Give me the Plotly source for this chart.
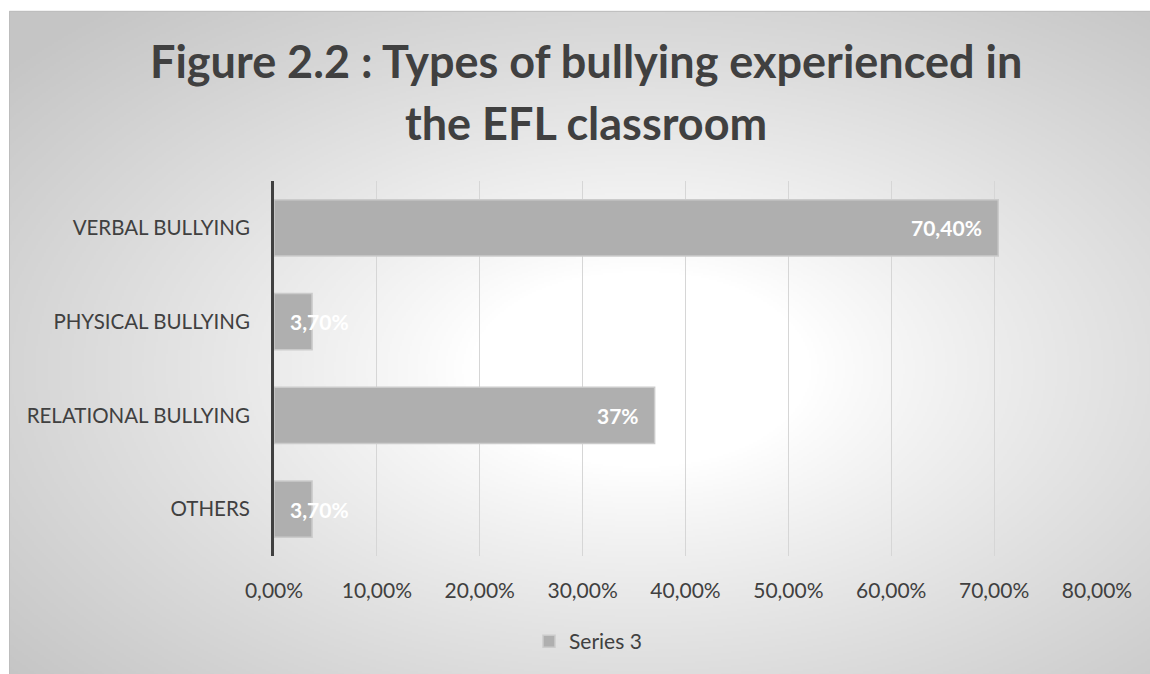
import base64
import struct
import zlib

import numpy as np
import plotly.graph_objects as go

# ---- data -------------------------------------------------------------
categories = ["VERBAL BULLYING", "PHYSICAL BULLYING", "RELATIONAL BULLYING", "OTHERS"]
values = [0.704, 0.037, 0.37, 0.037]
value_labels = ["70,40%", "3,70%", "37%", "3,70%"]
x_ticks = [0.0, 0.1, 0.2, 0.3, 0.4, 0.5, 0.6, 0.7, 0.8]
series_name = "Series 3"
title_lines = ["Figure 2.2 : Types of bullying experienced in", "the EFL classroom"]

# ---- geometry (pixels) -----------------------------------------------
W, H = 1150, 674
PL, PR, PT, PB = 274, 1097, 181, 558      # plot area edges
BOX_L, BOX_T, BOX_R, BOX_B = 9, 10, 1150, 674  # chart frame
TITLE_X, TITLE_Y = 586, [60, 123]          # centre of each title line


def px_to_paper_x(px):
    return (px - PL) / (PR - PL)


def px_to_paper_y(py):
    return (PB - py) / (PB - PT)


# ---- radial grey background rendered to a small PNG ------------------
def gray_png_uri(arr):
    h, w = arr.shape
    raw = b"".join(b"\x00" + arr[i].tobytes() for i in range(h))

    def chunk(tag, data):
        body = tag + data
        return struct.pack(">I", len(data)) + body + struct.pack(">I", zlib.crc32(body) & 0xFFFFFFFF)

    png = b"\x89PNG\r\n\x1a\n"
    png += chunk(b"IHDR", struct.pack(">IIBBBBB", w, h, 8, 0, 0, 0, 0))
    png += chunk(b"IDAT", zlib.compress(raw, 9))
    png += chunk(b"IEND", b"")
    return "data:image/png;base64," + base64.b64encode(png).decode()


IMG_R, IMG_B = W + 6, H + 6
scale = 2
gw, gh = (IMG_R - BOX_L) // scale, (IMG_B - BOX_T) // scale
gx = BOX_L + (np.arange(gw) + 0.5) * scale
gy = BOX_T + (np.arange(gh) + 0.5) * scale
XX, YY = np.meshgrid(gx, gy)
cx, cy = 640.0, 370.0
r = np.sqrt(((XX - cx) / ((BOX_R - BOX_L) / 2)) ** 2 + ((YY - cy) / ((BOX_B - BOX_T) / 2)) ** 2)
t = np.clip((r - 0.3) / (1.45 - 0.3), 0, 1)
shade = 255 - 58 * t ** 0.9
bg_uri = gray_png_uri(np.clip(shade, 0, 255).astype(np.uint8))

FONT = "Lato"
TEXT = "#404040"

fig = go.Figure()
fig.add_trace(
    go.Bar(
        y=categories,
        x=values,
        orientation="h",
        name=series_name,
        width=0.6,
        marker=dict(color="#afafaf", line=dict(color="#cbcbcb", width=1.5)),
        showlegend=True,
        hoverinfo="skip",
    )
)

annotations = []
# chart title, one annotation per line
for line, ty in zip(title_lines, TITLE_Y):
    annotations.append(
        dict(
            x=px_to_paper_x(TITLE_X),
            y=px_to_paper_y(ty),
            xref="paper",
            yref="paper",
            text=f"<b>{line}</b>",
            showarrow=False,
            xanchor="center",
            yanchor="middle",
            font=dict(family=FONT, size=45, color=TEXT),
        )
    )

# value labels: inside the bar end, or from the bar base when the bar is too short
for cat, v, lab in zip(categories, values, value_labels):
    fits = v >= 0.1
    annotations.append(
        dict(
            x=v if fits else 0,
            y=cat,
            xref="x",
            yref="y",
            text=f"<b>{lab}</b>",
            showarrow=False,
            xanchor="right" if fits else "left",
            xshift=-14 if fits else 14,
            font=dict(family=FONT, size=21, color="white"),
        )
    )

fig.update_layout(
    width=W,
    height=H,
    margin=dict(l=PL, r=W - PR, t=PT, b=H - PB),
    paper_bgcolor="white",
    plot_bgcolor="rgba(0,0,0,0)",
    separators=", ",
    font=dict(family=FONT, color=TEXT),
    xaxis=dict(
        range=[0, 0.8],
        tickvals=x_ticks,
        tickformat=".2%",
        showgrid=True,
        gridcolor="#d6d6d6",
        gridwidth=1,
        zeroline=False,
        showline=False,
        ticks="",
        ticklabelstandoff=20,
        tickfont=dict(family=FONT, size=21, color=TEXT),
        fixedrange=True,
    ),
    yaxis=dict(
        categoryorder="array",
        categoryarray=categories,
        autorange="reversed",
        showgrid=False,
        zeroline=False,
        showline=True,
        linecolor="#404040",
        linewidth=3,
        ticks="",
        ticklabelstandoff=17,
        tickfont=dict(family=FONT, size=20.5, color=TEXT),
        fixedrange=True,
    ),
    legend=dict(
        orientation="h",
        x=px_to_paper_x(588),
        xanchor="center",
        y=px_to_paper_y(644),
        yanchor="middle",
        font=dict(family=FONT, size=21, color=TEXT),
        bgcolor="rgba(0,0,0,0)",
    ),
    annotations=annotations,
    images=[
        dict(
            source=bg_uri,
            xref="paper",
            yref="paper",
            x=px_to_paper_x(BOX_L),
            y=px_to_paper_y(BOX_T),
            sizex=px_to_paper_x(IMG_R) - px_to_paper_x(BOX_L),
            sizey=px_to_paper_y(BOX_T) - px_to_paper_y(IMG_B),
            xanchor="left",
            yanchor="top",
            sizing="stretch",
            layer="below",
        )
    ],
    shapes=[
        dict(
            type="rect",
            xref="paper",
            yref="paper",
            x0=px_to_paper_x(BOX_L + 0.5),
            y0=px_to_paper_y(IMG_B),
            x1=px_to_paper_x(IMG_R),
            y1=px_to_paper_y(BOX_T + 0.5),
            line=dict(color="#bdbdbd", width=1),
            fillcolor="rgba(0,0,0,0)",
            layer="below",
        )
    ],
)

fig.write_html("out.html")
